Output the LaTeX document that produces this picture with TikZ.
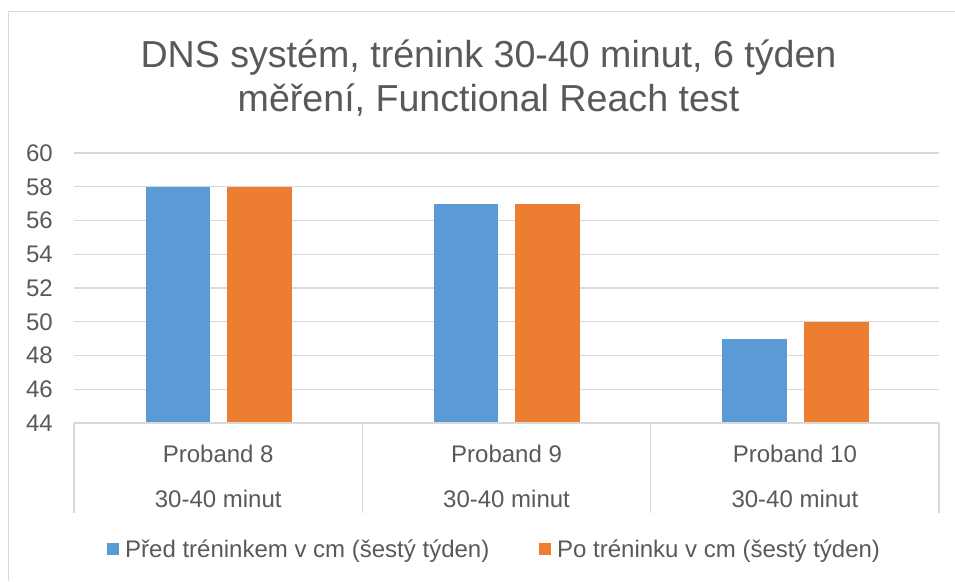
\documentclass[tikz,border=0pt]{standalone}
\usepackage{fontspec}
\setmainfont{Liberation Sans}
\definecolor{txt}{HTML}{595959}
\definecolor{gridc}{HTML}{D9D9D9}
\definecolor{bblue}{HTML}{5B9BD5}
\definecolor{borange}{HTML}{ED7D31}
\begin{document}
\begin{tikzpicture}[x=1pt,y=-1pt,
  ttl/.style={font=\fontsize{37.6}{44}\selectfont, text=txt, inner sep=0pt, anchor=base},
  lbl/.style={font=\fontsize{24}{28}\selectfont, text=txt, inner sep=0pt},
  gline/.style={draw=gridc, line width=1.4pt},
  legsq/.style={minimum size=12pt, inner sep=0pt}]
\useasboundingbox (0,0) rectangle (955,581);
% outer frame
\draw[gline] (8.5,581) -- (8.5,11.5) -- (955,11.5);
% title
\node[ttl] (t1) at (488.5,67) {DNS systém, trénink 30-40 minut, 6 týden};
\node[ttl] (t2) at (488.5,111) {měření, Functional Reach test};
% gridlines and tick labels
\foreach \v in {46,48,...,60} {
  \draw[gline] (74,{423-(\v-44)*16.875}) -- (939,{423-(\v-44)*16.875});
}
\foreach \v in {44,46,...,60} {
  \node[lbl, anchor=east] (tick\v) at (53,{423-(\v-44)*16.875}) {\v};
}
% bars
\foreach \i/\a/\b in {0/58/58, 1/57/57, 2/49/50} {
  \fill[bblue] ({74+288.33*\i+71.7},423) rectangle ({74+288.33*\i+136},{423-(\a-44)*16.875});
  \fill[borange] ({74+288.33*\i+153},423) rectangle ({74+288.33*\i+218},{423-(\b-44)*16.875});
}
% category axis box
\draw[gline] (74,423) -- (939,423);
\foreach \x in {74,362.3,650.7,939} {
  \draw[gline] (\x,423) -- (\x,513);
}
\foreach \i/\n in {0/8, 1/9, 2/10} {
  \node[lbl, anchor=base] (cat\n) at ({74+288.33*\i+144.2},462) {Proband \n};
  \node[lbl, anchor=base] (dur\n) at ({74+288.33*\i+144.2},507) {30-40 minut};
}
% legend
\node[legsq, fill=bblue] (sqa) at (113,549) {};
\node[lbl, anchor=base west] (lega) at (125,557) {Před tréninkem v cm (šestý týden)};
\node[legsq, fill=borange] (sqb) at (545,549) {};
\node[lbl, anchor=base west] (legb) at (557,557) {Po tréninku v cm (šestý týden)};
\end{tikzpicture}
\end{document}
